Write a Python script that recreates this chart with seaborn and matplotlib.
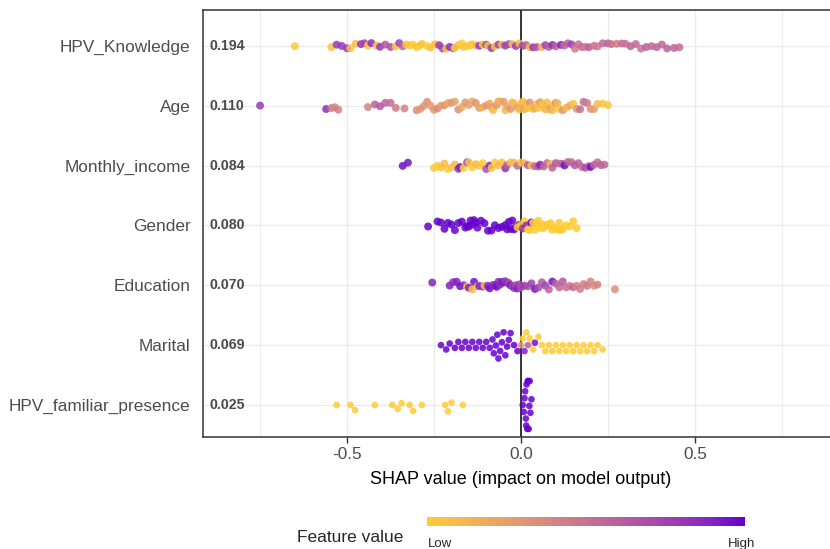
import numpy as np
import pandas as pd
import matplotlib
matplotlib.use("Agg")
import matplotlib.pyplot as plt
import matplotlib.transforms as mtransforms
from matplotlib.colors import LinearSegmentedColormap, Normalize
from matplotlib.cm import ScalarMappable
import seaborn as sns

# ---- data ----
features = ["HPV_Knowledge", "Age", "Monthly_income", "Gender",
            "Education", "Marital", "HPV_familiar_presence"]
mean_abs_shap = ["0.194", "0.110", "0.084", "0.080", "0.070", "0.069", "0.025"]

# (shap value, scaled feature value 0=low .. 1=high)
hpv_knowledge = [
    (-0.65, 0.02), (-0.545, 0.05), (-0.53, 0.8), (-0.515, 0.8), (-0.50, 0.78), (-0.49, 0.05),
    (-0.475, 0.1), (-0.46, 0.8), (-0.45, 0.75), (-0.44, 0.05), (-0.43, 0.85), (-0.415, 0.1),
    (-0.405, 0.8), (-0.39, 0.65), (-0.375, 0.7), (-0.36, 0.05), (-0.35, 0.75), (-0.34, 0.6),
    (-0.33, 0.05), (-0.32, 0.05), (-0.31, 0.0), (-0.30, 0.05), (-0.29, 0.0), (-0.285, 0.05),
    (-0.27, 0.0), (-0.26, 0.05), (-0.25, 0.0), (-0.245, 0.05), (-0.235, 0.8), (-0.225, 0.75),
    (-0.215, 0.05), (-0.205, 0.85), (-0.195, 0.7), (-0.19, 0.0), (-0.18, 0.1), (-0.17, 0.0),
    (-0.165, 0.05), (-0.155, 0.0), (-0.145, 0.05), (-0.14, 0.0), (-0.13, 0.1), (-0.12, 0.8),
    (-0.11, 0.05), (-0.10, 0.75), (-0.095, 0.1), (-0.085, 0.8), (-0.075, 0.05), (-0.065, 0.75),
    (-0.055, 0.1), (-0.045, 0.8), (-0.035, 0.7), (-0.025, 0.1), (-0.015, 0.8), (-0.005, 0.1),
    (0.005, 0.75), (0.015, 0.6), (0.025, 0.1), (0.035, 0.8), (0.045, 0.65), (0.06, 0.15),
    (0.07, 0.75), (0.08, 0.6), (0.09, 0.85), (0.10, 0.6), (0.115, 0.9), (0.125, 0.55),
    (0.135, 0.6), (0.145, 0.75), (0.155, 0.45), (0.165, 0.5), (0.175, 0.55), (0.185, 0.45),
    (0.195, 0.6), (0.21, 0.5), (0.22, 0.45), (0.235, 0.55), (0.25, 0.6), (0.26, 0.5),
    (0.275, 0.45), (0.29, 0.55), (0.30, 0.5), (0.315, 0.6), (0.33, 0.55), (0.345, 0.5),
    (0.36, 0.6), (0.375, 0.55), (0.39, 0.6), (0.405, 0.55), (0.42, 0.6), (0.44, 0.6), (0.455, 0.55),
]
age = [
    (-0.75, 0.8), (-0.56, 0.85), (-0.545, 0.45), (-0.535, 0.4), (-0.525, 0.42), (-0.44, 0.4),
    (-0.42, 0.6), (-0.405, 0.65), (-0.39, 0.6), (-0.375, 0.55), (-0.36, 0.45), (-0.335, 0.4),
    (-0.30, 0.35), (-0.29, 0.3), (-0.28, 0.3), (-0.27, 0.35), (-0.26, 0.25), (-0.25, 0.3),
    (-0.24, 0.35), (-0.23, 0.25), (-0.22, 0.3), (-0.21, 0.2), (-0.20, 0.3), (-0.19, 0.25),
    (-0.18, 0.35), (-0.17, 0.2), (-0.16, 0.3), (-0.15, 0.25), (-0.14, 0.2), (-0.13, 0.3),
    (-0.12, 0.25), (-0.11, 0.15), (-0.10, 0.3), (-0.09, 0.2), (-0.085, 0.25), (-0.08, 0.1),
    (-0.07, 0.3), (-0.065, 0.2), (-0.06, 0.15), (-0.05, 0.25), (-0.045, 0.1), (-0.04, 0.2),
    (-0.03, 0.3), (-0.025, 0.15), (-0.02, 0.1), (-0.01, 0.25), (-0.005, 0.1), (0.0, 0.15),
    (0.005, 0.05), (0.01, 0.2), (0.015, 0.1), (0.02, 0.05), (0.025, 0.3), (0.03, 0.1),
    (0.035, 0.05), (0.04, 0.2), (0.045, 0.1), (0.05, 0.05), (0.055, 0.3), (0.06, 0.1),
    (0.065, 0.05), (0.07, 0.15), (0.075, 0.1), (0.08, 0.05), (0.085, 0.25), (0.09, 0.1),
    (0.095, 0.05), (0.10, 0.35), (0.105, 0.1), (0.11, 0.05), (0.12, 0.3), (0.13, 0.1),
    (0.14, 0.2), (0.15, 0.05), (0.16, 0.3), (0.17, 0.5), (0.18, 0.55), (0.19, 0.45),
    (0.20, 0.3), (0.21, 0.25), (0.22, 0.1), (0.235, 0.05), (0.25, 0.05),
]
monthly_income = [
    (-0.34, 0.95), (-0.325, 0.95), (-0.25, 0.05), (-0.24, 0.0), (-0.23, 0.05), (-0.22, 0.1),
    (-0.21, 0.0), (-0.20, 0.05), (-0.19, 0.1), (-0.18, 0.85), (-0.175, 0.9), (-0.165, 0.0),
    (-0.155, 0.8), (-0.15, 0.05), (-0.14, 0.0), (-0.13, 0.1), (-0.12, 0.05), (-0.11, 0.0),
    (-0.10, 0.7), (-0.09, 0.9), (-0.085, 0.05), (-0.075, 0.0), (-0.065, 0.1), (-0.055, 0.05),
    (-0.045, 0.85), (-0.04, 0.6), (-0.03, 0.05), (-0.02, 0.1), (-0.01, 0.55), (0.0, 0.05),
    (0.01, 0.15), (0.02, 0.6), (0.03, 0.1), (0.04, 0.55), (0.05, 0.65), (0.055, 0.9),
    (0.065, 0.6), (0.075, 0.55), (0.085, 0.1), (0.09, 0.6), (0.10, 0.65), (0.11, 0.55),
    (0.12, 0.6), (0.125, 0.95), (0.135, 0.6), (0.145, 0.55), (0.155, 0.65), (0.165, 0.6),
    (0.175, 0.55), (0.185, 0.7), (0.195, 0.6), (0.20, 0.95), (0.21, 0.6), (0.22, 0.55),
    (0.23, 0.6), (0.24, 0.55),
]
gender = [
    (-0.267, 1.0), (-0.24, 1.0), (-0.23, 1.0), (-0.22, 1.0), (-0.21, 1.0), (-0.20, 1.0),
    (-0.19, 1.0), (-0.18, 1.0), (-0.17, 1.0), (-0.16, 1.0), (-0.155, 1.0), (-0.15, 1.0),
    (-0.145, 1.0), (-0.14, 1.0), (-0.135, 1.0), (-0.13, 1.0), (-0.125, 1.0), (-0.115, 1.0),
    (-0.105, 1.0), (-0.095, 1.0), (-0.085, 1.0), (-0.075, 1.0), (-0.065, 1.0), (-0.055, 1.0),
    (-0.045, 1.0), (-0.04, 1.0), (-0.035, 1.0), (-0.03, 1.0), (-0.025, 1.0), (-0.02, 1.0),
    (-0.015, 1.0), (-0.005, 1.0), (-0.01, 0.0), (0.0, 0.0), (0.005, 0.8), (0.01, 0.0),
    (0.015, 0.85), (0.02, 0.0), (0.025, 0.0), (0.03, 1.0), (0.035, 0.0), (0.04, 0.0),
    (0.045, 0.0), (0.05, 0.0), (0.055, 0.0), (0.06, 0.0), (0.065, 0.0), (0.07, 0.0),
    (0.075, 0.0), (0.08, 0.0), (0.085, 0.0), (0.09, 0.0), (0.095, 0.0), (0.10, 0.0),
    (0.105, 0.0), (0.11, 0.0), (0.115, 0.0), (0.12, 0.0), (0.13, 0.0), (0.14, 0.0),
    (0.15, 0.0), (0.16, 0.0),
]
education = [
    (-0.255, 0.9), (-0.205, 0.9), (-0.195, 0.85), (-0.185, 0.9), (-0.175, 0.95), (-0.165, 0.85),
    (-0.155, 0.05), (-0.15, 0.9), (-0.14, 0.1), (-0.135, 0.95), (-0.125, 0.05), (-0.12, 0.9),
    (-0.11, 0.85), (-0.105, 0.1), (-0.095, 0.9), (-0.09, 0.95), (-0.08, 0.85), (-0.075, 0.9),
    (-0.07, 0.95), (-0.065, 0.9), (-0.06, 0.85), (-0.055, 0.9), (-0.05, 0.95), (-0.045, 0.75),
    (-0.04, 0.9), (-0.035, 0.7), (-0.03, 0.95), (-0.025, 0.75), (-0.02, 0.85), (-0.015, 0.7),
    (-0.01, 0.9), (-0.005, 0.75), (0.0, 0.7), (0.01, 0.8), (0.02, 0.7), (0.03, 0.75),
    (0.04, 0.95), (0.05, 0.7), (0.06, 0.65), (0.07, 0.75), (0.08, 0.6), (0.09, 0.95),
    (0.10, 0.6), (0.11, 0.55), (0.12, 0.65), (0.13, 0.5), (0.14, 0.45), (0.15, 0.55),
    (0.16, 0.4), (0.17, 0.45), (0.18, 0.4), (0.19, 0.45), (0.20, 0.4), (0.21, 0.35),
    (0.22, 0.4), (0.27, 0.35),
]
marital = [
    (-0.23, 1.0), (-0.215, 1.0), (-0.205, 1.0), (-0.19, 1.0), (-0.18, 1.0), (-0.17, 1.0),
    (-0.16, 1.0), (-0.15, 1.0), (-0.14, 1.0), (-0.13, 1.0), (-0.12, 1.0), (-0.11, 1.0),
    (-0.10, 1.0), (-0.09, 1.0), (-0.082, 1.0), (-0.078, 1.0), (-0.072, 1.0), (-0.068, 1.0),
    (-0.065, 1.0), (-0.06, 1.0), (-0.055, 1.0), (-0.05, 1.0), (-0.045, 1.0), (-0.04, 1.0),
    (-0.035, 1.0), (-0.03, 1.0), (-0.02, 1.0), (-0.01, 1.0), (0.0, 0.3), (0.005, 0.0),
    (0.01, 0.9), (0.015, 0.0), (0.02, 0.6), (0.025, 0.0), (0.035, 0.0), (0.04, 0.95),
    (0.05, 0.0), (0.06, 0.0), (0.07, 0.0), (0.08, 0.0), (0.09, 0.0), (0.10, 0.0),
    (0.11, 0.0), (0.12, 0.0), (0.13, 0.0), (0.14, 0.0), (0.15, 0.0), (0.16, 0.0),
    (0.17, 0.0), (0.18, 0.0), (0.19, 0.0), (0.20, 0.0), (0.21, 0.0), (0.22, 0.0), (0.235, 0.0),
]
hpv_familiar_presence = [
    (-0.53, 0.0), (-0.49, 0.0), (-0.477, 0.0), (-0.42, 0.0), (-0.37, 0.0), (-0.354, 0.0),
    (-0.343, 0.0), (-0.32, 0.0), (-0.31, 0.0), (-0.285, 0.0), (-0.218, 0.0), (-0.21, 0.0),
    (-0.20, 0.0), (-0.167, 0.0),
    (0.005, 1.0), (0.008, 1.0), (0.01, 1.0), (0.012, 1.0), (0.014, 1.0), (0.015, 1.0),
    (0.016, 1.0), (0.018, 1.0), (0.02, 1.0), (0.02, 1.0), (0.022, 1.0), (0.024, 1.0),
    (0.025, 1.0), (0.027, 1.0), (0.03, 1.0),
]

rows = {
    "HPV_Knowledge": hpv_knowledge,
    "Age": age,
    "Monthly_income": monthly_income,
    "Gender": gender,
    "Education": education,
    "Marital": marital,
    "HPV_familiar_presence": hpv_familiar_presence,
}
df = pd.DataFrame(
    [(feat, s, v) for feat, pts in rows.items() for s, v in pts],
    columns=["feature", "shap", "value"],
)

# how each row is spread vertically (sina-like look): strip jitter or swarm
row_spread = {
    "HPV_Knowledge": 0.05, "Age": 0.08, "Monthly_income": 0.06, "Gender": 0.09,
    "Education": 0.07, "Marital": "swarm", "HPV_familiar_presence": "swarm",
}

# ---- colour scale: ggplot-style gradient (Lab interpolation) ----
M = np.array([[0.4124, 0.3576, 0.1805],
              [0.2126, 0.7152, 0.0722],
              [0.0193, 0.1192, 0.9505]])
WHITE = np.array([0.95047, 1.0, 1.08883])


def hex_to_lab(h):
    rgb = np.array([int(h[i:i + 2], 16) for i in (1, 3, 5)]) / 255
    lin = np.where(rgb > 0.04045, ((rgb + 0.055) / 1.055) ** 2.4, rgb / 12.92)
    xyz = M @ lin / WHITE
    f = np.where(xyz > 0.008856, np.cbrt(xyz), 7.787 * xyz + 16 / 116)
    return np.array([116 * f[1] - 16, 500 * (f[0] - f[1]), 200 * (f[1] - f[2])])


def lab_to_rgb(lab):
    fy = (lab[0] + 16) / 116
    f = np.array([fy + lab[1] / 500, fy, fy - lab[2] / 200])
    xyz = np.where(f ** 3 > 0.008856, f ** 3, (f - 16 / 116) / 7.787) * WHITE
    lin = np.clip(np.linalg.solve(M, xyz), 0, None)
    rgb = np.where(lin > 0.0031308, 1.055 * lin ** (1 / 2.4) - 0.055, 12.92 * lin)
    return np.clip(rgb, 0, 1)


lo, hi = hex_to_lab("#FFCC33"), hex_to_lab("#6600CC")
stops = [lab_to_rgb(lo + t * (hi - lo)) for t in np.linspace(0, 1, 11)]
cmap = LinearSegmentedColormap.from_list("shap", stops)

# ---- plot ----
sns.set_theme(style="white")
plt.rcParams['font.family'] = ['Liberation Sans', 'DejaVu Sans']
np.random.seed(3)  # stripplot jitter

W, H = 830, 549
fig = plt.figure(figsize=(W / 100, H / 100), dpi=100)
ax = fig.add_axes([203 / W, 112 / H, 636 / W, 427 / H])

ax.axvline(0, color="black", lw=1.1, zorder=1)
for feat in features:
    sub = df[df["feature"] == feat]
    kw = dict(data=sub, x="shap", y="feature", hue="value", order=features,
              palette=cmap, hue_norm=(0, 1), linewidth=0, alpha=0.85,
              legend=False, ax=ax, zorder=3)
    if row_spread[feat] == "swarm":
        sns.swarmplot(size=4.8, **kw)
    else:
        sns.stripplot(size=5.7, jitter=row_spread[feat], **kw)

ax.set_xlim(-0.914, 0.914)
ax.set_ylim(6.535, -0.6)
ax.set_xticks([-0.5, 0, 0.5])
ax.set_xticklabels(["-0.5", "0.0", "0.5"])
ax.set_xticks([-0.75, -0.25, 0.25, 0.75], minor=True)
ax.grid(True, which="major", color="#EBEBEB", lw=1.0, zorder=0)
ax.grid(True, which="minor", axis="x", color="#EBEBEB", lw=0.8, zorder=0)
ax.set_axisbelow(True)

for sp in ax.spines.values():
    sp.set_color("#333333")
    sp.set_linewidth(1.1)

ax.tick_params(axis="y", length=0, pad=9, labelsize=12.4, labelcolor="#4D4D4D")
ax.tick_params(axis="x", which="major", length=4, width=1, color="#333333", pad=3,
               labelsize=12.4, labelcolor="#4D4D4D", bottom=True)
ax.tick_params(axis="x", which="minor", length=0)
ax.set_ylabel("")
ax.set_xlabel("SHAP value (impact on model output)", fontsize=13, color="black", labelpad=7)

trans = mtransforms.blended_transform_factory(ax.transAxes, ax.transData)
for i, lab in enumerate(mean_abs_shap):
    ax.text(0.011, i, lab, transform=trans, ha="left", va="center",
            fontsize=10.2, fontweight="bold", color="black", alpha=0.7)

# colour legend at the bottom
cax = fig.add_axes([427 / W, (H - 526) / H, 318 / W, 9 / H])
cb = fig.colorbar(ScalarMappable(norm=Normalize(0, 1), cmap=cmap), cax=cax,
                  orientation="horizontal")
cb.outline.set_visible(False)
cb.set_ticks([])
fig.text(403 / W, 1 - 537 / H, "Feature value", ha="right", va="center", fontsize=12.5)
fig.text(428 / W, 1 - 544 / H, "Low", ha="left", va="center", fontsize=9.5)
fig.text(755 / W, 1 - 544 / H, "High", ha="right", va="center", fontsize=9.5)

fig.savefig("out.png", dpi=100)
